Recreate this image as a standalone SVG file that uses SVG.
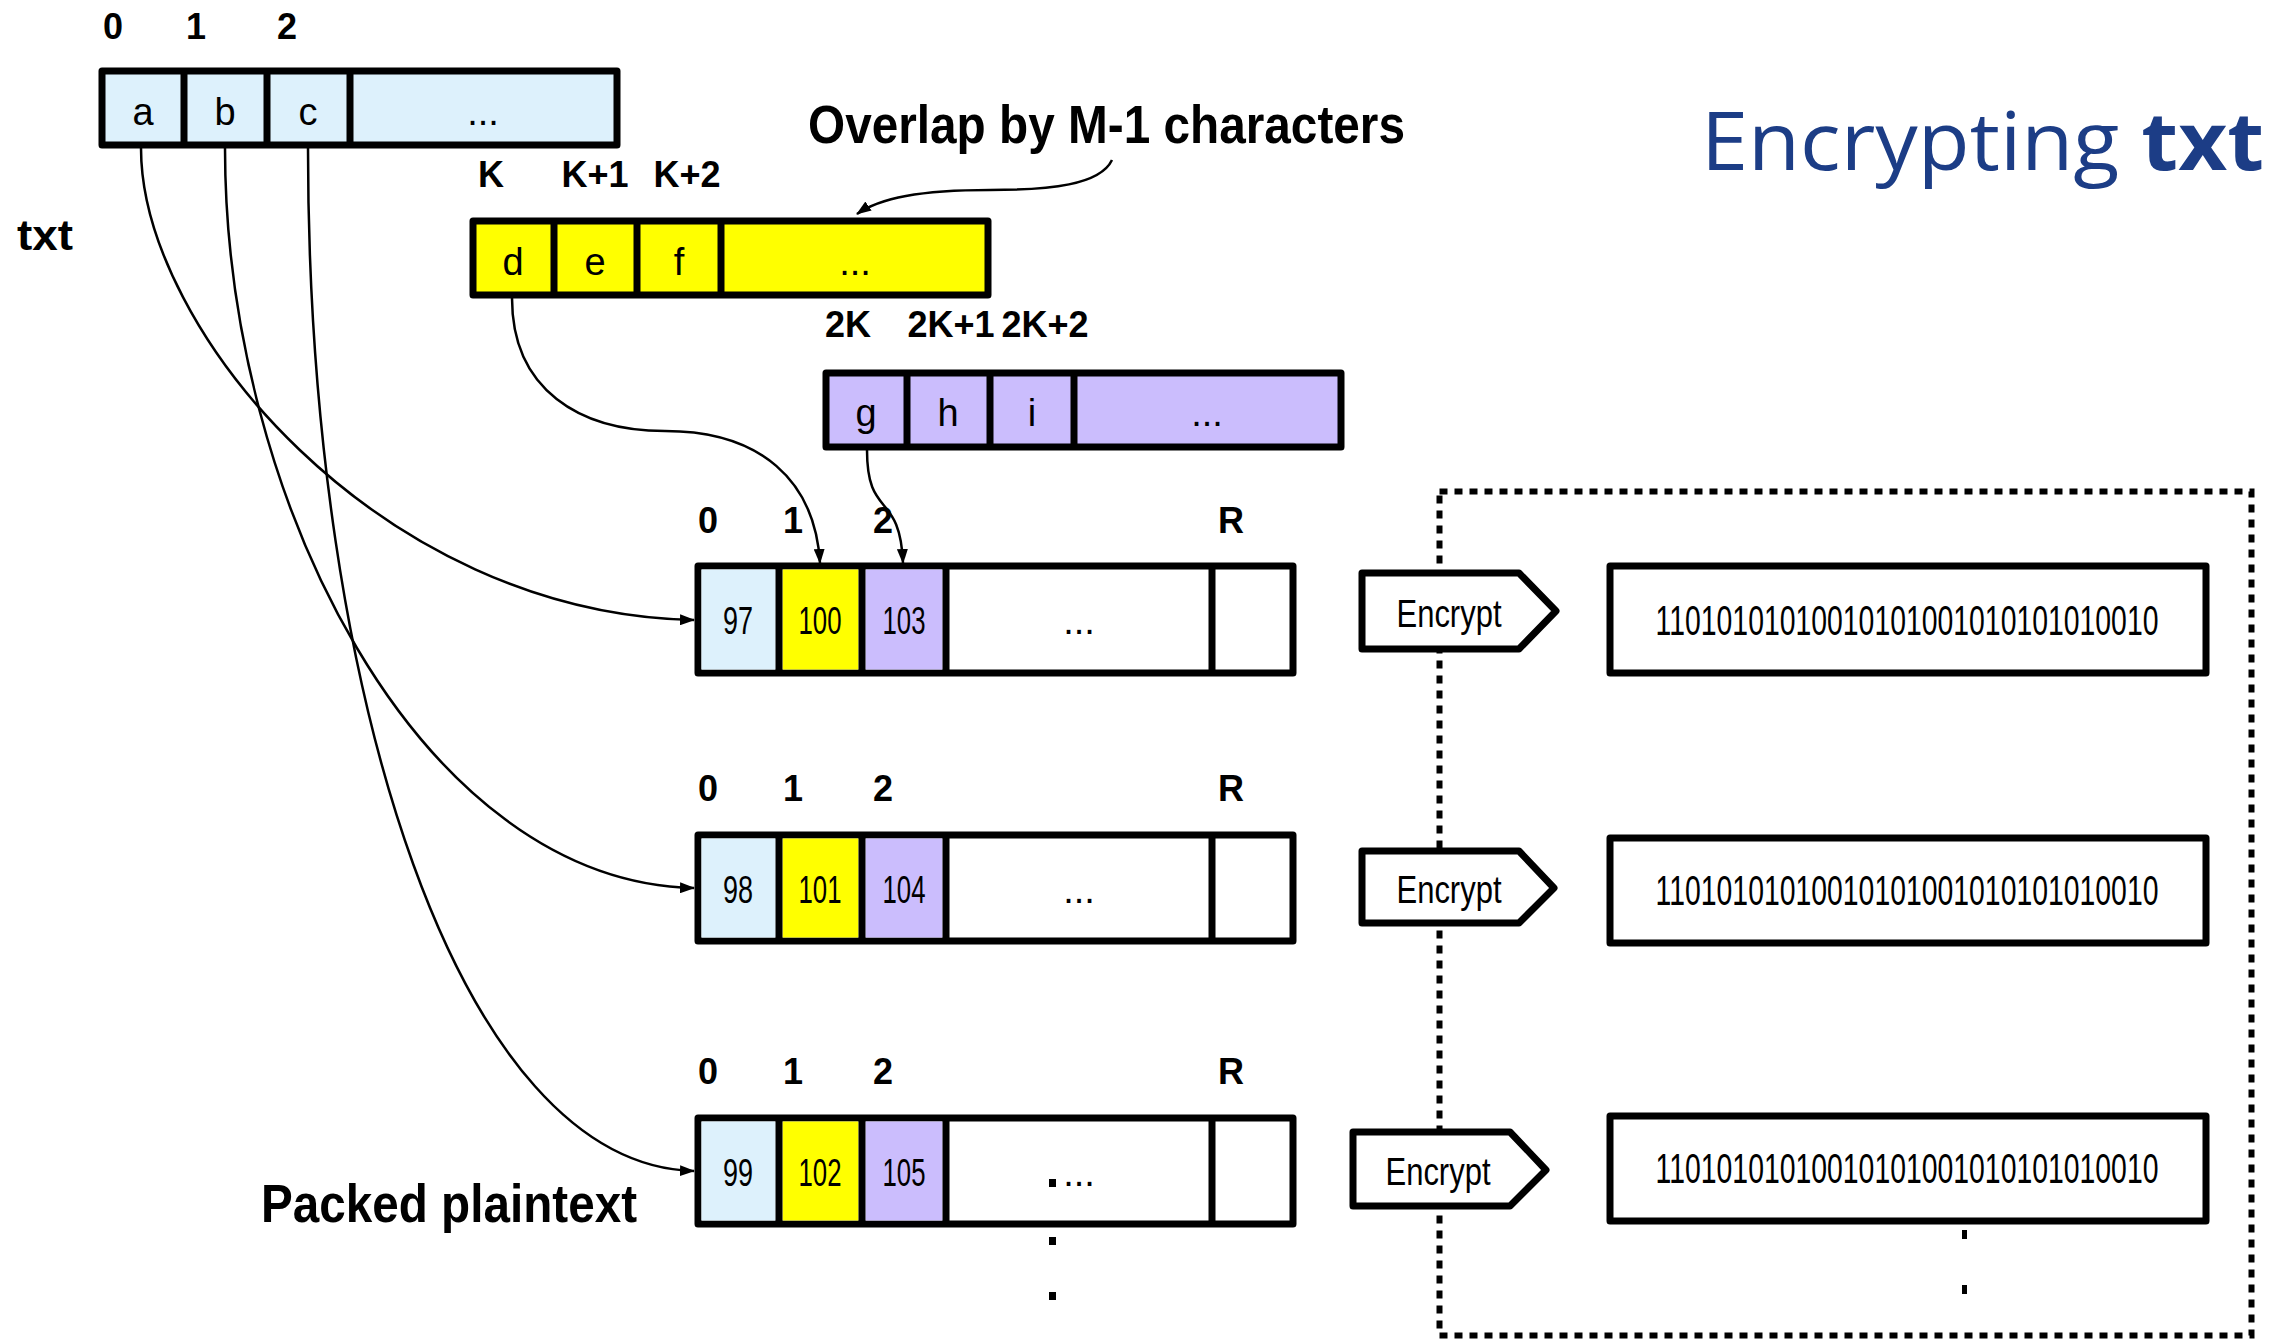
<svg xmlns="http://www.w3.org/2000/svg" width="2276" height="1342" viewBox="0 0 2276 1342">
  <style>
    .box { stroke: #000; stroke-width: 7; stroke-linejoin: round; }
    .div { stroke: #000; stroke-width: 7; }
    .blue { fill: #ddf1fc; }
    .yellow { fill: #ffff00; }
    .purple { fill: #cbbdfd; }
    .white { fill: #ffffff; }
    .lbl { font-family: "Liberation Sans Narrow", "Arial Narrow", "Liberation Sans", sans-serif; font-weight: bold; font-size: 36px; fill: #000; text-anchor: middle; }
    .cell { font-family: "Liberation Sans Narrow", "Arial Narrow", "Liberation Sans", sans-serif; font-size: 38px; fill: #000; text-anchor: middle; }
    .bits { font-family: "Liberation Sans Narrow", "Arial Narrow", "Liberation Sans", sans-serif; font-size: 42px; fill: #000; text-anchor: middle; }
    .big { font-family: "Liberation Sans Narrow", "Arial Narrow", "Liberation Sans", sans-serif; font-weight: bold; fill: #000; }
    .link { fill: none; stroke: #000; stroke-width: 2.5; }
    .dots { fill: none; stroke: #000; stroke-width: 6; stroke-dasharray: 8 7; }
    .title { font-family: "Open Sans", "Noto Sans", sans-serif; font-size: 80px; fill: #1c3d86; }
  </style>
  <defs>
    <marker id="arrow" viewBox="0 0 15 11" refX="14" refY="5.5" markerWidth="15" markerHeight="11" markerUnits="userSpaceOnUse" orient="auto">
      <path d="M0,0 L15,5.5 L0,11 Z" fill="#000"/>
    </marker>
  </defs>

  <!-- dotted frame around the encrypted blocks -->
  <rect class="dots" x="1439.5" y="491.5" width="812" height="844"/>

  <!-- title -->
  <text class="title" x="1701" y="170" textLength="563" lengthAdjust="spacingAndGlyphs">Encrypting <tspan font-weight="bold">txt</tspan></text>

  <!-- side labels -->
  <text class="big" x="17" y="250" font-size="42" textLength="56" lengthAdjust="spacingAndGlyphs">txt</text>
  <text class="big" x="808" y="143" font-size="54" textLength="597" lengthAdjust="spacingAndGlyphs">Overlap by M-1 characters</text>
  <text class="big" x="261" y="1222" font-size="53" textLength="376" lengthAdjust="spacingAndGlyphs">Packed plaintext</text>

  <!-- txt chunk 0 -->
  <g id="chunk0">
    <text class="lbl" x="113" y="39">0</text>
    <text class="lbl" x="196" y="39">1</text>
    <text class="lbl" x="287" y="39">2</text>
    <rect class="box blue" x="102" y="71" width="515" height="74"/>
    <line class="div" x1="184" y1="71" x2="184" y2="145"/>
    <line class="div" x1="267" y1="71" x2="267" y2="145"/>
    <line class="div" x1="350" y1="71" x2="350" y2="145"/>
    <text class="cell" x="143" y="125">a</text>
    <text class="cell" x="225" y="125">b</text>
    <text class="cell" x="308" y="125">c</text>
    <text class="cell" x="483" y="125">...</text>
  </g>

  <!-- txt chunk K -->
  <g id="chunkK">
    <text class="lbl" x="491" y="187">K</text>
    <text class="lbl" x="595" y="187">K+1</text>
    <text class="lbl" x="687" y="187">K+2</text>
    <rect class="box yellow" x="473" y="221" width="515" height="74"/>
    <line class="div" x1="554" y1="221" x2="554" y2="295"/>
    <line class="div" x1="637" y1="221" x2="637" y2="295"/>
    <line class="div" x1="721" y1="221" x2="721" y2="295"/>
    <text class="cell" x="513" y="275">d</text>
    <text class="cell" x="595" y="275">e</text>
    <text class="cell" x="679" y="275">f</text>
    <text class="cell" x="855" y="275">...</text>
  </g>

  <!-- txt chunk 2K -->
  <g id="chunk2K">
    <text class="lbl" x="848" y="337">2K</text>
    <text class="lbl" x="951" y="337">2K+1</text>
    <text class="lbl" x="1045" y="337">2K+2</text>
    <rect class="box purple" x="826" y="373" width="515" height="74"/>
    <line class="div" x1="907" y1="373" x2="907" y2="447"/>
    <line class="div" x1="990" y1="373" x2="990" y2="447"/>
    <line class="div" x1="1074" y1="373" x2="1074" y2="447"/>
    <text class="cell" x="866" y="426">g</text>
    <text class="cell" x="948" y="426">h</text>
    <text class="cell" x="1032" y="426">i</text>
    <text class="cell" x="1207" y="426">...</text>
  </g>

  <!-- packed plaintext row 1 -->
  <g id="packed1">
    <text class="lbl" x="708" y="533">0</text>
    <text class="lbl" x="793" y="533">1</text>
    <text class="lbl" x="883" y="533">2</text>
    <text class="lbl" x="1231" y="533">R</text>
    <rect class="box white" x="698" y="566" width="595" height="107"/>
    <rect class="blue" x="701.5" y="569.5" width="74" height="100"/>
    <rect class="yellow" x="782.5" y="569.5" width="76" height="100"/>
    <rect class="purple" x="865.5" y="569.5" width="77" height="100"/>
    <line class="div" x1="779" y1="566" x2="779" y2="673"/>
    <line class="div" x1="862" y1="566" x2="862" y2="673"/>
    <line class="div" x1="946" y1="566" x2="946" y2="673"/>
    <line class="div" x1="1212" y1="566" x2="1212" y2="673"/>
    <text class="cell" x="738" y="634" textLength="30" lengthAdjust="spacingAndGlyphs">97</text>
    <text class="cell" x="820" y="634" textLength="43" lengthAdjust="spacingAndGlyphs">100</text>
    <text class="cell" x="904" y="634" textLength="43" lengthAdjust="spacingAndGlyphs">103</text>
    <text class="cell" x="1079" y="634">...</text>
  </g>

  <!-- packed plaintext row 2 -->
  <g id="packed2">
    <text class="lbl" x="708" y="801">0</text>
    <text class="lbl" x="793" y="801">1</text>
    <text class="lbl" x="883" y="801">2</text>
    <text class="lbl" x="1231" y="801">R</text>
    <rect class="box white" x="698" y="835" width="595" height="106"/>
    <rect class="blue" x="701.5" y="838.5" width="74" height="99"/>
    <rect class="yellow" x="782.5" y="838.5" width="76" height="99"/>
    <rect class="purple" x="865.5" y="838.5" width="77" height="99"/>
    <line class="div" x1="779" y1="835" x2="779" y2="941"/>
    <line class="div" x1="862" y1="835" x2="862" y2="941"/>
    <line class="div" x1="946" y1="835" x2="946" y2="941"/>
    <line class="div" x1="1212" y1="835" x2="1212" y2="941"/>
    <text class="cell" x="738" y="903" textLength="30" lengthAdjust="spacingAndGlyphs">98</text>
    <text class="cell" x="820" y="903" textLength="43" lengthAdjust="spacingAndGlyphs">101</text>
    <text class="cell" x="904" y="903" textLength="43" lengthAdjust="spacingAndGlyphs">104</text>
    <text class="cell" x="1079" y="903">...</text>
  </g>

  <!-- packed plaintext row 3 -->
  <g id="packed3">
    <text class="lbl" x="708" y="1084">0</text>
    <text class="lbl" x="793" y="1084">1</text>
    <text class="lbl" x="883" y="1084">2</text>
    <text class="lbl" x="1231" y="1084">R</text>
    <rect class="box white" x="698" y="1118" width="595" height="106"/>
    <rect class="blue" x="701.5" y="1121.5" width="74" height="99"/>
    <rect class="yellow" x="782.5" y="1121.5" width="76" height="99"/>
    <rect class="purple" x="865.5" y="1121.5" width="77" height="99"/>
    <line class="div" x1="779" y1="1118" x2="779" y2="1224"/>
    <line class="div" x1="862" y1="1118" x2="862" y2="1224"/>
    <line class="div" x1="946" y1="1118" x2="946" y2="1224"/>
    <line class="div" x1="1212" y1="1118" x2="1212" y2="1224"/>
    <text class="cell" x="738" y="1186" textLength="30" lengthAdjust="spacingAndGlyphs">99</text>
    <text class="cell" x="820" y="1186" textLength="43" lengthAdjust="spacingAndGlyphs">102</text>
    <text class="cell" x="904" y="1186" textLength="43" lengthAdjust="spacingAndGlyphs">105</text>
    <text class="cell" x="1079" y="1186">...</text>
    <rect x="1049" y="1179" width="7" height="8" fill="#000"/>
  </g>

  <!-- more rows follow -->
  <g id="more-rows" fill="#000">
    <rect x="1049" y="1237" width="7" height="8"/>
    <rect x="1049" y="1292" width="7" height="8"/>
    <rect x="1962" y="1230" width="5" height="9"/>
    <rect x="1962" y="1285" width="5" height="9"/>
  </g>

  <!-- encrypt steps -->
  <g id="encrypt1">
    <path class="box white" d="M1362,573 L1519,573 L1556,611 L1519,649 L1362,649 Z"/>
    <text class="cell" x="1449" y="627" textLength="105" lengthAdjust="spacingAndGlyphs">Encrypt</text>
  </g>
  <g id="encrypt2">
    <path class="box white" d="M1362,851 L1519,851 L1554,888 L1519,923 L1362,923 Z"/>
    <text class="cell" x="1449" y="903" textLength="105" lengthAdjust="spacingAndGlyphs">Encrypt</text>
  </g>
  <g id="encrypt3">
    <path class="box white" d="M1353,1132 L1510,1132 L1546,1170 L1510,1206 L1353,1206 Z"/>
    <text class="cell" x="1438" y="1185" textLength="105" lengthAdjust="spacingAndGlyphs">Encrypt</text>
  </g>

  <!-- ciphertext blocks -->
  <g id="cipher1">
    <rect class="box white" x="1610" y="566" width="596" height="107"/>
    <text class="bits" transform="translate(1907,635) scale(0.676,1)">11010101010010101001010101010010</text>
  </g>
  <g id="cipher2">
    <rect class="box white" x="1610" y="838" width="596" height="105"/>
    <text class="bits" transform="translate(1907,905) scale(0.676,1)">11010101010010101001010101010010</text>
  </g>
  <g id="cipher3">
    <rect class="box white" x="1610" y="1116" width="596" height="105"/>
    <text class="bits" transform="translate(1907,1183) scale(0.676,1)">11010101010010101001010101010010</text>
  </g>

  <!-- connectors -->
  <g id="connectors">
    <path class="link" marker-end="url(#arrow)" d="M141,148 C141,330 380,614 694,620"/>
    <path class="link" marker-end="url(#arrow)" d="M225,148 C225,500 420,882 694,888"/>
    <path class="link" marker-end="url(#arrow)" d="M308,148 C308,700 460,1165 694,1171"/>
    <path class="link" marker-end="url(#arrow)" d="M512,298 C512,390 580,431 665,431 C760,431 815,480 820,563"/>
    <path class="link" marker-end="url(#arrow)" d="M867,450 C867,520 900,490 903,563"/>
    <path class="link" stroke-width="3" marker-end="url(#arrow)" d="M1112,160 C1100,185 1050,190 990,190 C920,190 880,198 857,214"/>
  </g>
</svg>
